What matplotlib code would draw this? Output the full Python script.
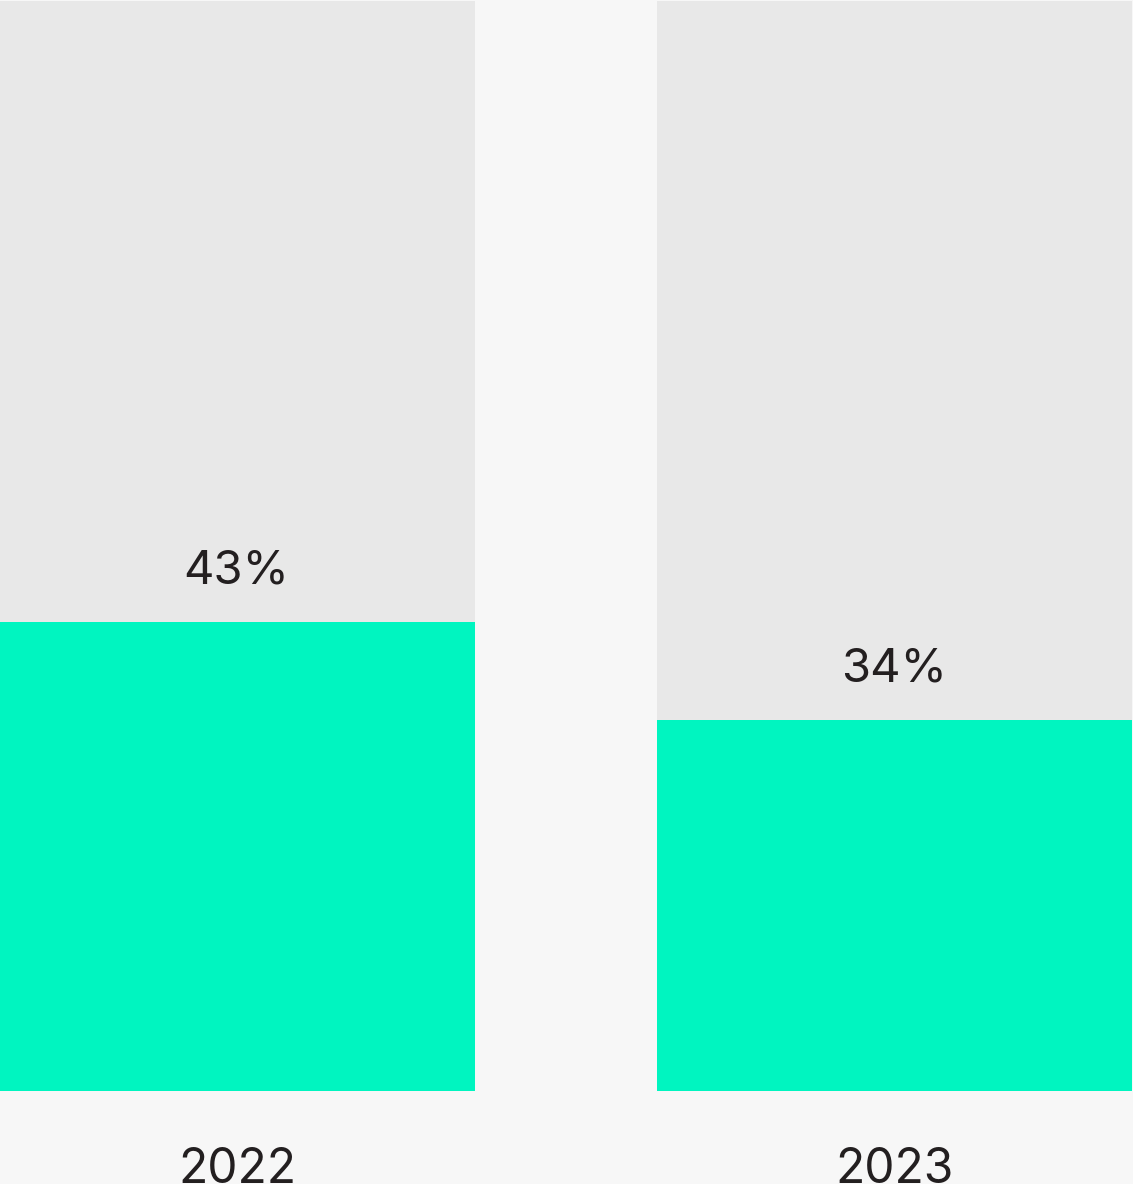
import matplotlib
matplotlib.use("Agg")
import matplotlib.pyplot as plt
import matplotlib.transforms as mtransforms

years = ["2022", "2023"]
shares = [43, 34]
total = [100, 100]

bg = "#f7f7f7"
grey = "#e8e8e8"
green = "#00f5c0"
ink = "#231f20"

plt.rcParams["font.family"] = ["Inter", "DejaVu Sans"]

fig = plt.figure(figsize=(11.33, 11.84), dpi=100, facecolor=bg)
ax = fig.add_axes([0, 93 / 1184, 1, 1090 / 1184])
ax.set_facecolor(bg)

x = range(len(years))
width = 0.7224
ax.bar(x, total, width=width, color=grey, linewidth=0)
ax.bar(x, shares, width=width, color=green, linewidth=0)

for i, v in enumerate(shares):
    ax.annotate(f"{v}%", xy=(i, v), xytext=(-1, 28), textcoords="offset points",
                ha="center", va="baseline", fontsize=34, color=ink)

# year labels under the bars, partly clipped by the canvas bottom
trans = mtransforms.blended_transform_factory(ax.transData, ax.transAxes)
for i, yr in enumerate(years):
    ax.text(i, -0.0844, yr, transform=trans, ha="center", va="baseline",
            fontsize=34.5, color=ink, clip_on=False)

ax.set_xlim(-0.3612, 1.362)
ax.set_ylim(0, 100)
ax.axis("off")

fig.savefig("out.png", dpi=100, facecolor=bg)
